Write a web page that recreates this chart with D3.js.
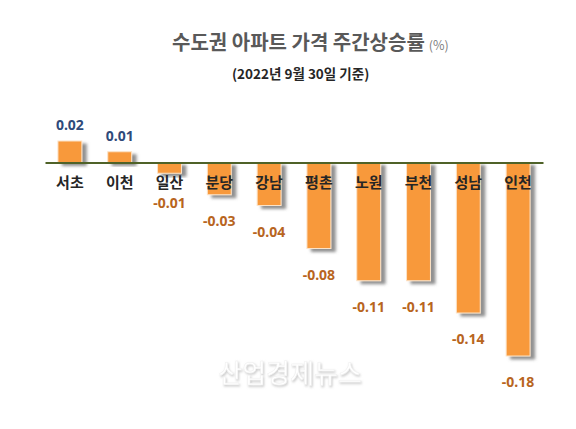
<!DOCTYPE html>
<html><head><meta charset="utf-8">
<script src="https://cdn.jsdelivr.net/npm/d3@7"></script>
<style>
html,body{margin:0;padding:0;background:#fff;}
svg{display:block;font-family:"Noto Sans CJK KR","Noto Sans",sans-serif;}
</style></head>
<body>
<svg id="chart" width="576" height="429"></svg>
<script>
const regions = ["서초","이천","일산","분당","강남","평촌","노원","부천","성남","인천"];
const weeklyChange = [0.02,0.01,-0.01,-0.03,-0.04,-0.08,-0.11,-0.11,-0.14,-0.18];
const titleText = "수도권 아파트 가격 주간상승률";
const unitText = "(%)";
const subtitleText = "(2022년 9월 30일 기준)";
const watermarkText = "산업경제뉴스";

const svg = d3.select("#chart");
const W = 576, H = 429;
svg.append("rect").attr("width",W).attr("height",H).attr("fill","#fff");

const defs = svg.append("defs");
const sh = defs.append("filter").attr("id","shadow").attr("x","-20%").attr("y","-20%").attr("width","160%").attr("height","160%");
sh.append("feDropShadow").attr("dx",4.5).attr("dy",3).attr("stdDeviation",1.4)
  .attr("flood-color","#6b6b6b").attr("flood-opacity",0.75);
const emb = defs.append("filter").attr("id","emboss").attr("x","-10%").attr("y","-30%").attr("width","120%").attr("height","160%");
emb.append("feDropShadow").attr("dx",1).attr("dy",1.5).attr("stdDeviation",0.8)
  .attr("flood-color","#b0b0b0").attr("flood-opacity",0.7);

const x = d3.scaleBand().domain(regions).range([45,543]).paddingInner(0.52).paddingOuter(0.26);
const y = d3.scaleLinear().domain([-0.18,0.02]).range([356,141]);

// title
const t = svg.append("text").attr("x",172).attr("y",50).attr("fill","#595959");
t.append("tspan").attr("font-size",20).attr("font-weight","bold").text(titleText);
t.append("tspan").attr("font-size",12.5).attr("fill","#7f7f7f").attr("dx",4).text(unitText);
svg.append("text").attr("x",232).attr("y",79).attr("font-size",13.5).attr("font-weight","bold")
  .attr("fill","#262626").text(subtitleText);

// watermark
svg.append("text").attr("x",290).attr("y",383).attr("text-anchor","middle")
  .attr("font-size",26).attr("fill","#ffffff").attr("stroke","#f0f0f0").attr("stroke-width",0.5)
  .attr("filter","url(#emboss)").text(watermarkText);

const data = regions.map((r,i)=>({r, v: weeklyChange[i]}));

// bars
svg.append("g").selectAll("rect").data(data).join("rect")
  .attr("x",d=>x(d.r)).attr("width",x.bandwidth())
  .attr("y",d=>Math.min(y(d.v),y(0))).attr("height",d=>Math.abs(y(d.v)-y(0)))
  .attr("fill","#F8993B").attr("stroke","#FCE3C8").attr("stroke-width",1)
  .attr("filter","url(#shadow)");

// zero axis line
const axis = d3.axisBottom(x).tickSize(0).tickFormat("");
const ax = svg.append("g").attr("transform",`translate(0,${y(0)})`).call(axis);
ax.select(".domain").attr("stroke","#4F6228").attr("stroke-width",2);

// category labels
const catBaseline = 188;
svg.append("g").selectAll("text").data(data).join("text")
  .attr("x",d=>x(d.r)+x.bandwidth()/2).attr("y",catBaseline)
  .attr("text-anchor","middle").attr("font-size",15).attr("font-weight","bold")
  .attr("fill","#262626").text(d=>d.r);

// value labels
svg.append("g").selectAll("text").data(data).join("text")
  .attr("x",d=>x(d.r)+x.bandwidth()/2)
  .attr("y",d=> d.v>=0 ? y(d.v)-11 : Math.max(y(d.v)+31, catBaseline+20))
  .attr("text-anchor","middle").attr("font-size",14).attr("font-weight","bold")
  .attr("font-family","'Noto Sans','Liberation Sans',sans-serif")
  .attr("fill",d=> d.v>=0 ? "#2E4A7A" : "#B8651E")
  .text(d=>d.v.toFixed(2));
</script>
</body></html>
